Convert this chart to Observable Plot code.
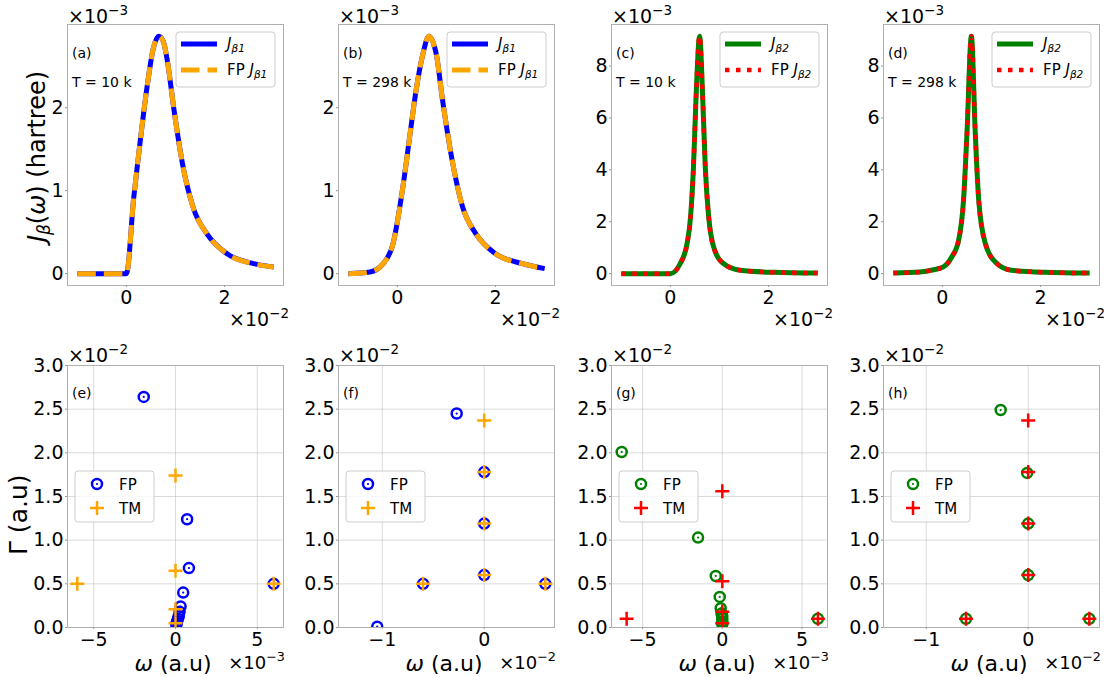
<!DOCTYPE html>
<html><head><meta charset="utf-8">
<script src="https://cdn.jsdelivr.net/npm/d3@7"></script>
<script src="https://cdn.jsdelivr.net/npm/@observablehq/plot@0.6"></script>
<style>
body{margin:0;background:#fff;font-family:"DejaVu Sans",sans-serif;}
#fig{position:relative;width:1104px;height:677px;overflow:hidden;background:#fff;}
.panel{position:absolute;}
#overlay{position:absolute;left:0;top:0;z-index:10;pointer-events:none;}
</style></head><body><div id="fig"></div>
<script>
// ---------- data (ω in units of 1e-2 for top row, J in units of 1e-3) ----------
const omegaA = [-1.0, -0.5, 0.0, 0.15, 0.26, 0.43, 0.55, 0.66, 0.75, 0.83, 0.97, 1.14, 1.37, 1.64, 2.05, 2.59, 3.0];
const jA     = [0, 0, 0, 0.92, 1.49, 2.29, 2.72, 2.86, 2.80, 2.58, 1.97, 1.33, 0.78, 0.48, 0.24, 0.12, 0.08];
const omegaB = [-1.0, -0.56, -0.29, -0.09, 0.11, 0.25, 0.38, 0.52, 0.64, 0.79, 0.92, 1.09, 1.33, 1.60, 2.0, 2.55, 3.0];
const jB     = [0.0, 0.02, 0.12, 0.36, 1.04, 1.65, 2.21, 2.65, 2.86, 2.65, 2.09, 1.45, 0.80, 0.48, 0.24, 0.12, 0.06];
const omegaC = [-1.0, 0.0, 0.2, 0.34, 0.41, 0.47, 0.52, 0.595, 0.66, 0.71, 0.78, 0.88, 1.08, 1.42, 2.1, 3.0];
const jC     = [0, 0, 0.39, 1.16, 2.18, 4.11, 6.68, 9.14, 6.68, 4.11, 2.18, 1.03, 0.39, 0.13, 0.05, 0.02];
const omegaD = [-1.0, -0.46, -0.18, 0.02, 0.19, 0.33, 0.43, 0.5, 0.59, 0.67, 0.74, 0.875, 1.11, 1.4, 2.08, 3.0];
const jD     = [0.02, 0.06, 0.15, 0.26, 0.64, 1.28, 2.82, 5.39, 9.14, 5.39, 2.82, 1.16, 0.39, 0.13, 0.05, 0.02];

// bottom row: ω (1e-3 for e,g; 1e-2 for f,h), Γ in units of 1e-2
const fpOmegaE = [-1.94, 0.71, 0.82, 0.47, 0.31, 0.25, 0.2, 0.15, 0.1, 0.07, 0.05, 6.0];
const fpGammaE = [2.64, 1.24, 0.68, 0.40, 0.24, 0.18, 0.13, 0.10, 0.07, 0.05, 0.03, 0.50];
const tmOmegaE = [0, 0, 0, 0, -6.0, 6.0];
const tmGammaE = [1.74, 0.65, 0.21, 0.05, 0.50, 0.50];
const fpOmegaF = [-0.27, 0, 0, 0, -0.60, 0.60, -1.05];
const fpGammaF = [2.45, 1.78, 1.19, 0.60, 0.50, 0.50, 0.01];
const tmOmegaF = [0, 0, 0, 0, -0.60, 0.60];
const tmGammaF = [2.37, 1.78, 1.19, 0.60, 0.50, 0.50];
const fpOmegaG = [-6.31, -1.52, -0.41, -0.16, -0.1, -0.05, 0, 0, 0, 0, 6.0];
const fpGammaG = [2.01, 1.03, 0.59, 0.35, 0.22, 0.16, 0.13, 0.10, 0.07, 0.04, 0.10];
const tmOmegaG = [0, 0, 0, 0, -6.0, 6.0];
const tmGammaG = [1.56, 0.53, 0.18, 0.05, 0.10, 0.10];
const fpOmegaH = [-0.27, -0.01, 0, 0, -0.61, 0.60];
const fpGammaH = [2.49, 1.77, 1.19, 0.60, 0.10, 0.10];
const tmOmegaH = [0, 0, 0, 0, -0.61, 0.60];
const tmGammaH = [2.37, 1.78, 1.19, 0.60, 0.10, 0.10];

const panelTags = ["(a)", "(b)", "(c)", "(d)", "(e)", "(f)", "(g)", "(h)"];
const tempLabels = ["T = 10 k", "T = 298 k", "T = 10 k", "T = 298 k"];
const topXTicks = [0, 2];
const topYTicksB1 = [0, 1, 2];
const topYTicksB2 = [0, 2, 4, 6, 8];
const botYTicks = [0, 0.5, 1.0, 1.5, 2.0, 2.5, 3.0];
const botXTicksMilli = [-5, 0, 5];
const botXTicksCenti = [-1, 0];
const topYOffset = "−3", topXOffset = "−2";
const botYOffset = "−2";
const botXOffsets = ["−3", "−2", "−3", "−2"];

// ---------- layout ----------
const FONT = "DejaVu Sans";
const frameLefts = [67, 338, 611, 883];
const FW = 216;
const topFT = 24, topFH = 261;
const botFT = 365, botFH = 262;
const ML = 48, MR = 8, MT = 4, MB = 30;
const fig = document.getElementById("fig");
const minusFmt = d => (d < 0 ? "−" + Math.abs(d) : String(d));

const plusSym = {draw(ctx, size) { const r = Math.sqrt(size / Math.PI); ctx.moveTo(-r, 0); ctx.lineTo(r, 0); ctx.moveTo(0, -r); ctx.lineTo(0, r); }};

function place(svg, left, top) {
  const d = document.createElement("div");
  d.className = "panel";
  d.style.left = left + "px"; d.style.top = top + "px";
  d.appendChild(svg); fig.appendChild(d);
}
const baseStyle = {background: "transparent", overflow: "visible", fontFamily: FONT, maxWidth: "none"};

function topPanel(i, xs, ys, yTicks, solid, dashColor, dash, dashW) {
  const rows = xs.map((w, k) => ({w, j: ys[k]}));
  const M = d3.max(ys);
  const svg = Plot.plot({
    width: FW + ML + MR, height: topFH + MT + MB,
    marginLeft: ML, marginRight: MR, marginTop: MT, marginBottom: MB,
    style: baseStyle,
    x: {domain: [-1.2, 3.2]},
    y: {domain: [-0.05 * M, 1.05 * M]},
    marks: [
      Plot.frame({stroke: "#b0b0b0"}),
      Plot.axisX({ticks: topXTicks, tickSize: 2, tickPadding: 3, fontSize: 19, label: null, stroke: "#999", fill: "black", tickFormat: minusFmt}),
      Plot.axisY({ticks: yTicks, tickSize: 2, tickPadding: 2, fontSize: 19, label: null, stroke: "#999", fill: "black", tickFormat: minusFmt}),
      Plot.line(rows, {x: "w", y: "j", stroke: solid, strokeWidth: 5, curve: "monotone-x", strokeLinecap: "butt"}),
      Plot.line(rows, {x: "w", y: "j", stroke: dashColor, strokeWidth: dashW, strokeDasharray: dash, strokeLinecap: "butt", curve: "monotone-x"})
    ]
  });
  place(svg, frameLefts[i] - ML, topFT - MT);
}

function botPanel(i, xDom, xTicks, fpX, fpY, tmX, tmY, fpColor, tmColor) {
  const fp = fpX.map((w, k) => ({w, g: fpY[k]}));
  const tm = tmX.map((w, k) => ({w, g: tmY[k]}));
  const svg = Plot.plot({
    width: FW + ML + MR, height: botFH + MT + MB,
    marginLeft: ML, marginRight: MR, marginTop: MT, marginBottom: MB,
    style: baseStyle,
    x: {domain: xDom},
    y: {domain: [0, 3.0]},
    marks: [
      Plot.gridX({ticks: xTicks, stroke: "#b0b0b0", strokeOpacity: 0.45}),
      Plot.gridY({ticks: botYTicks, stroke: "#b0b0b0", strokeOpacity: 0.45}),
      Plot.frame({stroke: "#b0b0b0"}),
      Plot.axisX({ticks: xTicks, tickSize: 2, tickPadding: 3, fontSize: 19, label: null, stroke: "#999", fill: "black", tickFormat: minusFmt}),
      Plot.axisY({ticks: botYTicks, tickSize: 2, tickPadding: 2, fontSize: 19, label: null, stroke: "#999", fill: "black", tickFormat: d3.format(".1f")}),
      Plot.dot(fp, {x: "w", y: "g", r: 5, stroke: fpColor, strokeWidth: 2.5, fill: "none", clip: true}),
      Plot.dot(fp, {x: "w", y: "g", r: 1.1, fill: fpColor, clip: true}),
      Plot.dot(tm, {x: "w", y: "g", r: 7, symbol: plusSym, stroke: tmColor, strokeWidth: 2.5, fill: "none", clip: true})
    ]
  });
  place(svg, frameLefts[i] - ML, botFT - MT);
}

topPanel(0, omegaA, jA, topYTicksB1, "blue", "orange", "18.5,8", 5);
topPanel(1, omegaB, jB, topYTicksB1, "blue", "orange", "18.5,8", 5);
topPanel(2, omegaC, jC, topYTicksB2, "green", "red", "4.5,6.5", 4.5);
topPanel(3, omegaD, jD, topYTicksB2, "green", "red", "4.5,6.5", 4.5);
botPanel(0, [-6.6, 6.6], botXTicksMilli, fpOmegaE, fpGammaE, tmOmegaE, tmGammaE, "blue", "orange");
botPanel(1, [-1.43, 0.69], botXTicksCenti, fpOmegaF, fpGammaF, tmOmegaF, tmGammaF, "blue", "orange");
botPanel(2, [-6.95, 6.6], botXTicksMilli, fpOmegaG, fpGammaG, tmOmegaG, tmGammaG, "green", "red");
botPanel(3, [-1.42, 0.70], botXTicksCenti, fpOmegaH, fpGammaH, tmOmegaH, tmGammaH, "green", "red");

// ---------- overlay: offsets, labels, legends ----------
const ov = d3.select("#fig").append("svg").attr("id", "overlay").attr("width", 1104).attr("height", 677)
  .style("font-family", FONT);

function offsetText(x, y, exp, anchor, size) {
  const fs = size || 19;
  const t = ov.append("text").attr("x", x).attr("y", y).attr("font-size", fs).attr("text-anchor", anchor || "start");
  t.append("tspan").text("×10");
  t.append("tspan").attr("dy", -fs * 0.42).attr("font-size", fs * 0.71).text(exp);
}

frameLefts.forEach((L, i) => {
  const R = L + FW;
  // top row
  offsetText(L + 1, 23, topYOffset);
  offsetText(R + 6, 326, topXOffset, "end");
  ov.append("text").attr("x", L + 5).attr("y", 58).attr("font-size", 14).text(panelTags[i]);
  ov.append("text").attr("x", L + 5).attr("y", 87).attr("font-size", 14).text(tempLabels[i]);
  // top legend
  const b2 = i >= 2;
  const lg = ov.append("g").attr("transform", `translate(${R - 8 - 99},${topFT + 8})`);
  lg.append("rect").attr("width", 99).attr("height", 55).attr("rx", 3).attr("fill", "white").attr("fill-opacity", 0.8).attr("stroke", "#ccc");
  const c1 = b2 ? "green" : "blue", c2 = b2 ? "red" : "orange";
  lg.append("line").attr("x1", 5).attr("x2", 41).attr("y1", 12).attr("y2", 12).attr("stroke", c1).attr("stroke-width", 5);
  lg.append("line").attr("x1", 5).attr("x2", 41).attr("y1", 38).attr("y2", 38).attr("stroke", c2)
    .attr("stroke-width", b2 ? 4.5 : 5).attr("stroke-dasharray", b2 ? "4.5,6.5" : "18.5,8");
  const sub = b2 ? "β2" : "β1";
  const t1 = lg.append("text").attr("x", 51).attr("y", 17).attr("font-size", 15);
  t1.append("tspan").attr("font-style", "italic").text("J");
  t1.append("tspan").attr("dy", 3).attr("font-size", 10.5).attr("font-style", "italic").text(sub);
  const t2 = lg.append("text").attr("x", 51).attr("y", 43).attr("font-size", 15);
  t2.append("tspan").text("FP ");
  t2.append("tspan").attr("font-style", "italic").text("J");
  t2.append("tspan").attr("dy", 3).attr("font-size", 10.5).attr("font-style", "italic").text(sub);

  // bottom row
  offsetText(L + 1, 362, botYOffset);
  offsetText(R + 2, 669, botXOffsets[i], "end", 18);
  ov.append("text").attr("x", L + 5).attr("y", 398).attr("font-size", 14).text(panelTags[i + 4]);
  const xl = ov.append("text").attr("x", L + FW / 2 - 2).attr("y", 671).attr("font-size", 22).attr("text-anchor", "middle");
  xl.append("tspan").attr("font-style", "italic").text("ω");
  xl.append("tspan").text(" (a.u)");
  const fc = b2 ? "green" : "blue", tc = b2 ? "red" : "orange";
  const bl = ov.append("g").attr("transform", `translate(${L + 8},471)`);
  bl.append("rect").attr("width", 79).attr("height", 51).attr("rx", 3).attr("fill", "white").attr("fill-opacity", 0.8).attr("stroke", "#ccc");
  bl.append("circle").attr("cx", 22).attr("cy", 13).attr("r", 5).attr("fill", "none").attr("stroke", fc).attr("stroke-width", 2.5);
  bl.append("circle").attr("cx", 22).attr("cy", 13).attr("r", 1.1).attr("fill", fc);
  bl.append("path").attr("d", "M15,37H29M22,30V44").attr("stroke", tc).attr("stroke-width", 2.5);
  bl.append("text").attr("x", 44).attr("y", 18.5).attr("font-size", 15).text("FP");
  bl.append("text").attr("x", 44).attr("y", 42.5).attr("font-size", 15).text("TM");
});

// y labels
const yl = ov.append("text").attr("transform", "translate(45,156.5) rotate(-90)").attr("text-anchor", "middle").attr("font-size", 24);
yl.append("tspan").attr("font-style", "italic").text("J");
yl.append("tspan").attr("dy", 5).attr("font-size", 17).attr("font-style", "italic").text("β");
yl.append("tspan").attr("dy", -5).text("(");
yl.append("tspan").attr("font-style", "italic").text("ω");
yl.append("tspan").text(") (hartree)");
ov.append("text").attr("transform", "translate(27,555) rotate(-90)").attr("font-size", 25).text("Γ (a.u)");
</script></body></html>
